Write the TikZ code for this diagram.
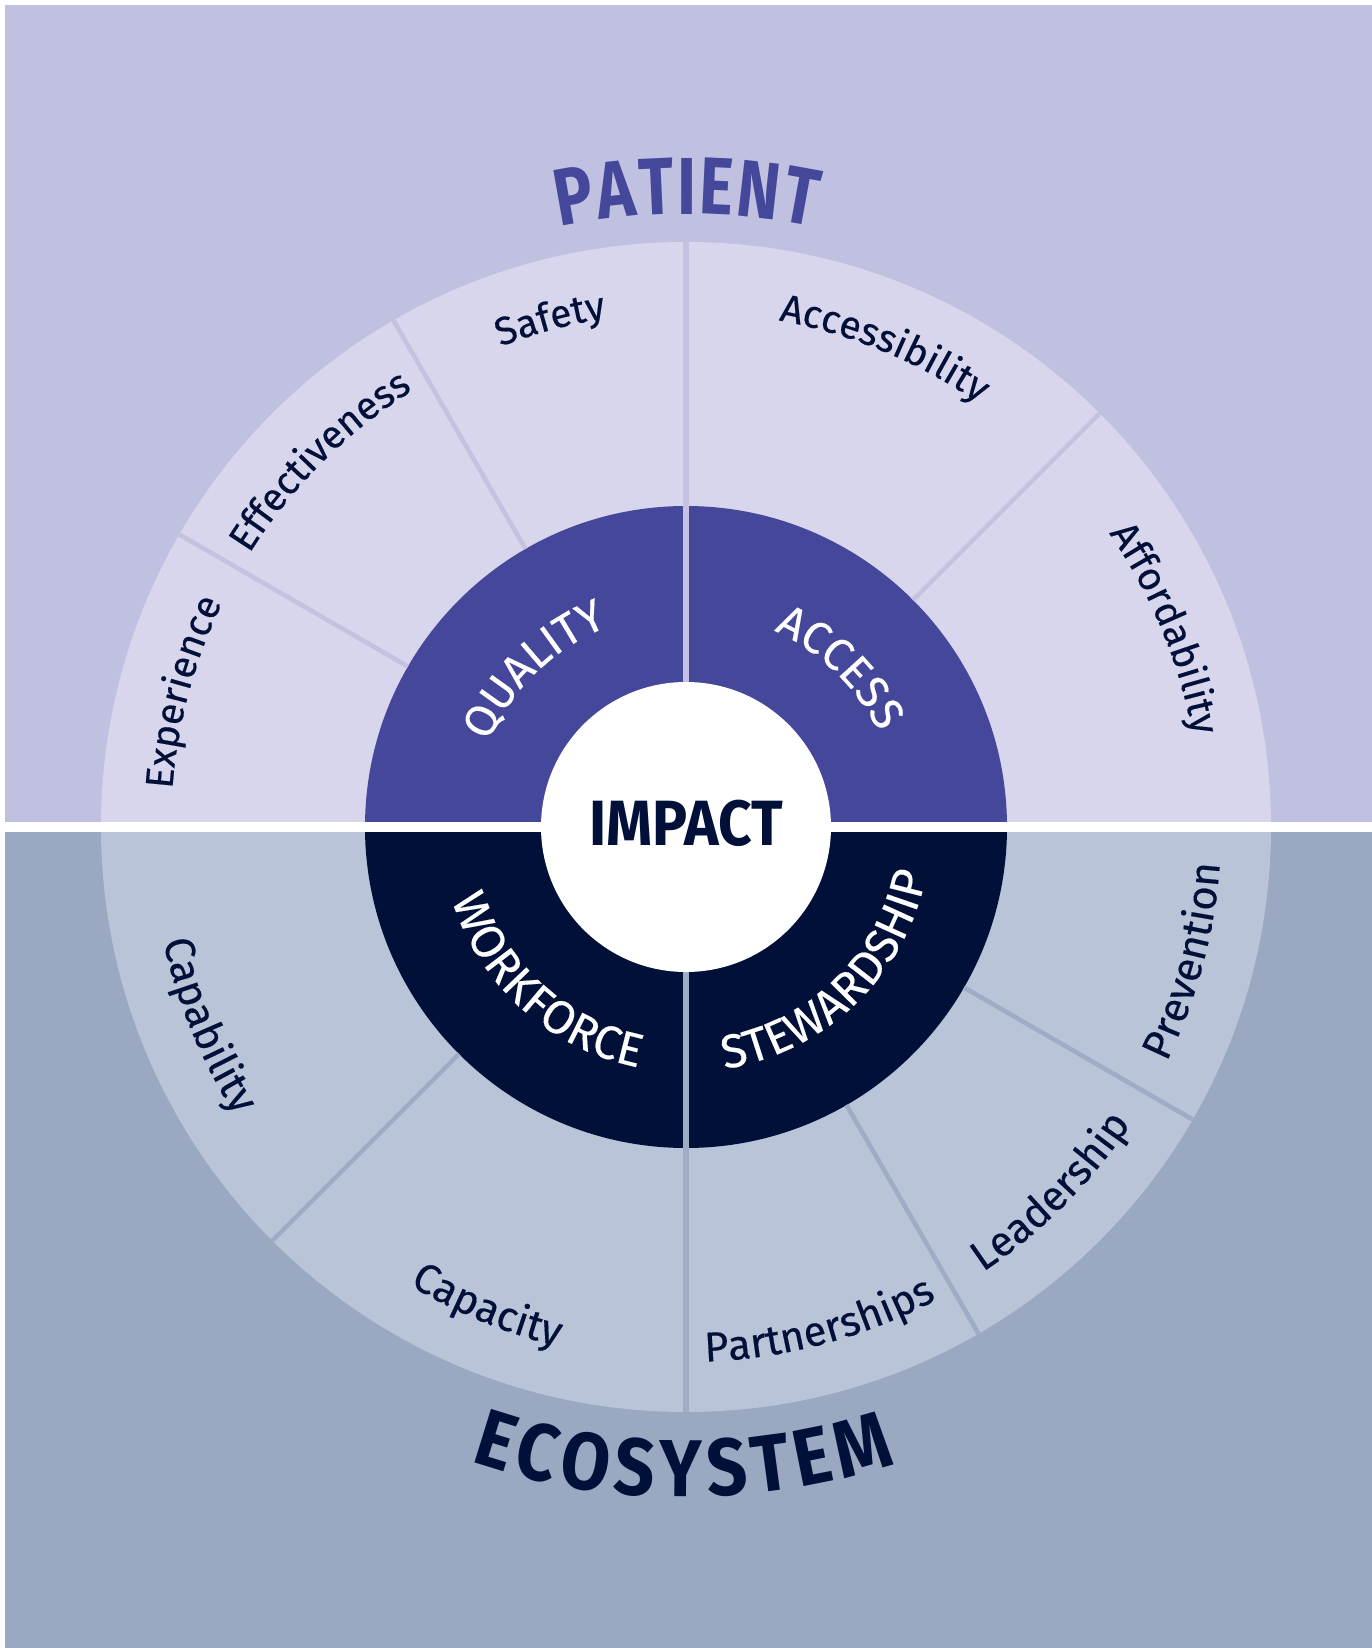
\documentclass[tikz,border=0pt]{standalone}
\usepackage{fontspec}
\setmainfont{Fira Sans}
\newfontfamily\narrowfont[FakeStretch=0.88]{Fira Sans}
\newfontfamily\tallfont[FakeStretch=0.8]{Fira Sans}
\newfontfamily\labelfamily[FakeBold=0.35]{Fira Sans}
\usetikzlibrary{decorations.text}

\definecolor{patientbg}{RGB}{192,192,224}
\definecolor{patientring}{RGB}{216,214,236}
\definecolor{patientline}{RGB}{196,194,224}
\definecolor{quality}{RGB}{69,71,155}
\definecolor{ecobg}{RGB}{154,168,194}
\definecolor{ecoring}{RGB}{186,196,216}
\definecolor{ecoline}{RGB}{158,172,198}
\definecolor{navy}{RGB}{0,16,56}

\newcommand\toplabelfont{\labelfamily\fontsize{11.1}{13}\selectfont}
\newcommand\botlabelfont{\labelfamily\fontsize{11.9}{14}\selectfont}
\newcommand\toppillarfont{\labelfamily\fontsize{12.8}{15}\selectfont}
\newcommand\botpillarfont{\labelfamily\fontsize{13.4}{16}\selectfont}
\newcommand\patientfont{\tallfont\bfseries\fontsize{23}{27}\selectfont}
\newcommand\ecofont{\narrowfont\bfseries\fontsize{23}{27}\selectfont}
\newcommand\impactfont{\narrowfont\bfseries\fontsize{18.2}{22}\selectfont}

\begin{document}
\begin{tikzpicture}
[ringlabel/.style 2 args={decorate, decoration={text along path, text color=navy,
                   text align=center, text={|#1|#2}}},
 pillar/.style 2 args={decorate, decoration={text along path, text color=white,
                text align=center, text={|#1|#2}}},
 heading/.style n args={3}{decorate, decoration={text along path, text color=#1,
                 text align=fit to path, text={|#2|#3}}},
 topline/.style={draw=patientline, line width=1.3pt},
 botline/.style={draw=ecoline, line width=1.3pt}]
  \useasboundingbox (-6.86,-8.21) rectangle (6.86,8.27);
  \fill[white] (-6.86,-8.21) rectangle (6.86,8.27);
  \fill[patientbg] (-6.81,0) rectangle (6.86,8.22);
  \fill[ecobg] (-6.81,-8.21) rectangle (6.86,0);
  % outer ring
  \fill[patientring] (0:5.85) arc[start angle=0, end angle=180, radius=5.85] -- cycle;
  \fill[ecoring] (180:5.85) arc[start angle=180, end angle=360, radius=5.85] -- cycle;
  % pillars
  \fill[quality] (0:3.21) arc[start angle=0, end angle=180, radius=3.21] -- cycle;
  \fill[navy] (180:3.21) arc[start angle=180, end angle=360, radius=3.21] -- cycle;
  \foreach \a in {45,120,150} \draw[topline] (\a:3.21) -- (\a:5.85);
  \foreach \a in {225,300,330} \draw[botline] (\a:3.21) -- (\a:5.85);
  \draw[topline, line width=1.5pt] (90:1.45) -- (90:5.85);
  \draw[botline, line width=1.5pt] (270:1.45) -- (270:5.85);
  \fill[white] (-6.86,-0.05) rectangle (6.86,0.05);
  \node[circle, fill=white, minimum size=2.9cm, inner sep=0pt] (core) at (0,0) {};
  \node[font=\impactfont, text=navy, anchor=base, xscale=1.04] (impact) at (0,-0.19) {IMPACT};
  % patient side
  \path[ringlabel={\toplabelfont}{Experience}] (205:5.15) arc[start angle=205, end angle=125, radius=5.15];
  \path[ringlabel={\toplabelfont}{Effectiveness}] (175:5.15) arc[start angle=175, end angle=95, radius=5.15];
  \path[ringlabel={\toplabelfont}{Safety}] (145:5.15) arc[start angle=145, end angle=65, radius=5.15];
  \path[ringlabel={\toplabelfont}{Accessibility}] (107.5:5.15) arc[start angle=107.5, end angle=27.5, radius=5.15];
  \path[ringlabel={\toplabelfont}{Affordability}] (62.5:5.15) arc[start angle=62.5, end angle=-17.5, radius=5.15];
  \path[pillar={\toppillarfont}{QUALITY}] (174:2.15) arc[start angle=174, end angle=94, radius=2.15];
  \path[pillar={\toppillarfont}{ACCESS}] (86:2.15) arc[start angle=86, end angle=6, radius=2.15];
  \path[heading={quality}{\patientfont}{PATIENT}] (101.9:6.13) arc[start angle=101.9, end angle=78.0, radius=6.13];
  % ecosystem side
  \path[ringlabel={\botlabelfont}{Capability}] (162.5:5.35) arc[start angle=162.5, end angle=242.5, radius=5.35];
  \path[ringlabel={\botlabelfont}{Capacity}] (207.5:5.35) arc[start angle=207.5, end angle=287.5, radius=5.35];
  \path[ringlabel={\botlabelfont}{Partnerships}] (245:5.35) arc[start angle=245, end angle=325, radius=5.35];
  \path[ringlabel={\botlabelfont}{Leadership}] (275:5.35) arc[start angle=275, end angle=355, radius=5.35];
  \path[ringlabel={\botlabelfont}{Prevention}] (305:5.35) arc[start angle=305, end angle=385, radius=5.35];
  \path[pillar={\botpillarfont}{WORKFORCE}] (188:2.45) arc[start angle=188, end angle=268, radius=2.45];
  \path[pillar={\botpillarfont}{STEWARDSHIP}] (274:2.45) arc[start angle=274, end angle=354, radius=2.45];
  \path[heading={navy}{\ecofont}{ECOSYSTEM}] (251.2:6.70) arc[start angle=251.2, end angle=288.3, radius=6.70];
\end{tikzpicture}
\end{document}
